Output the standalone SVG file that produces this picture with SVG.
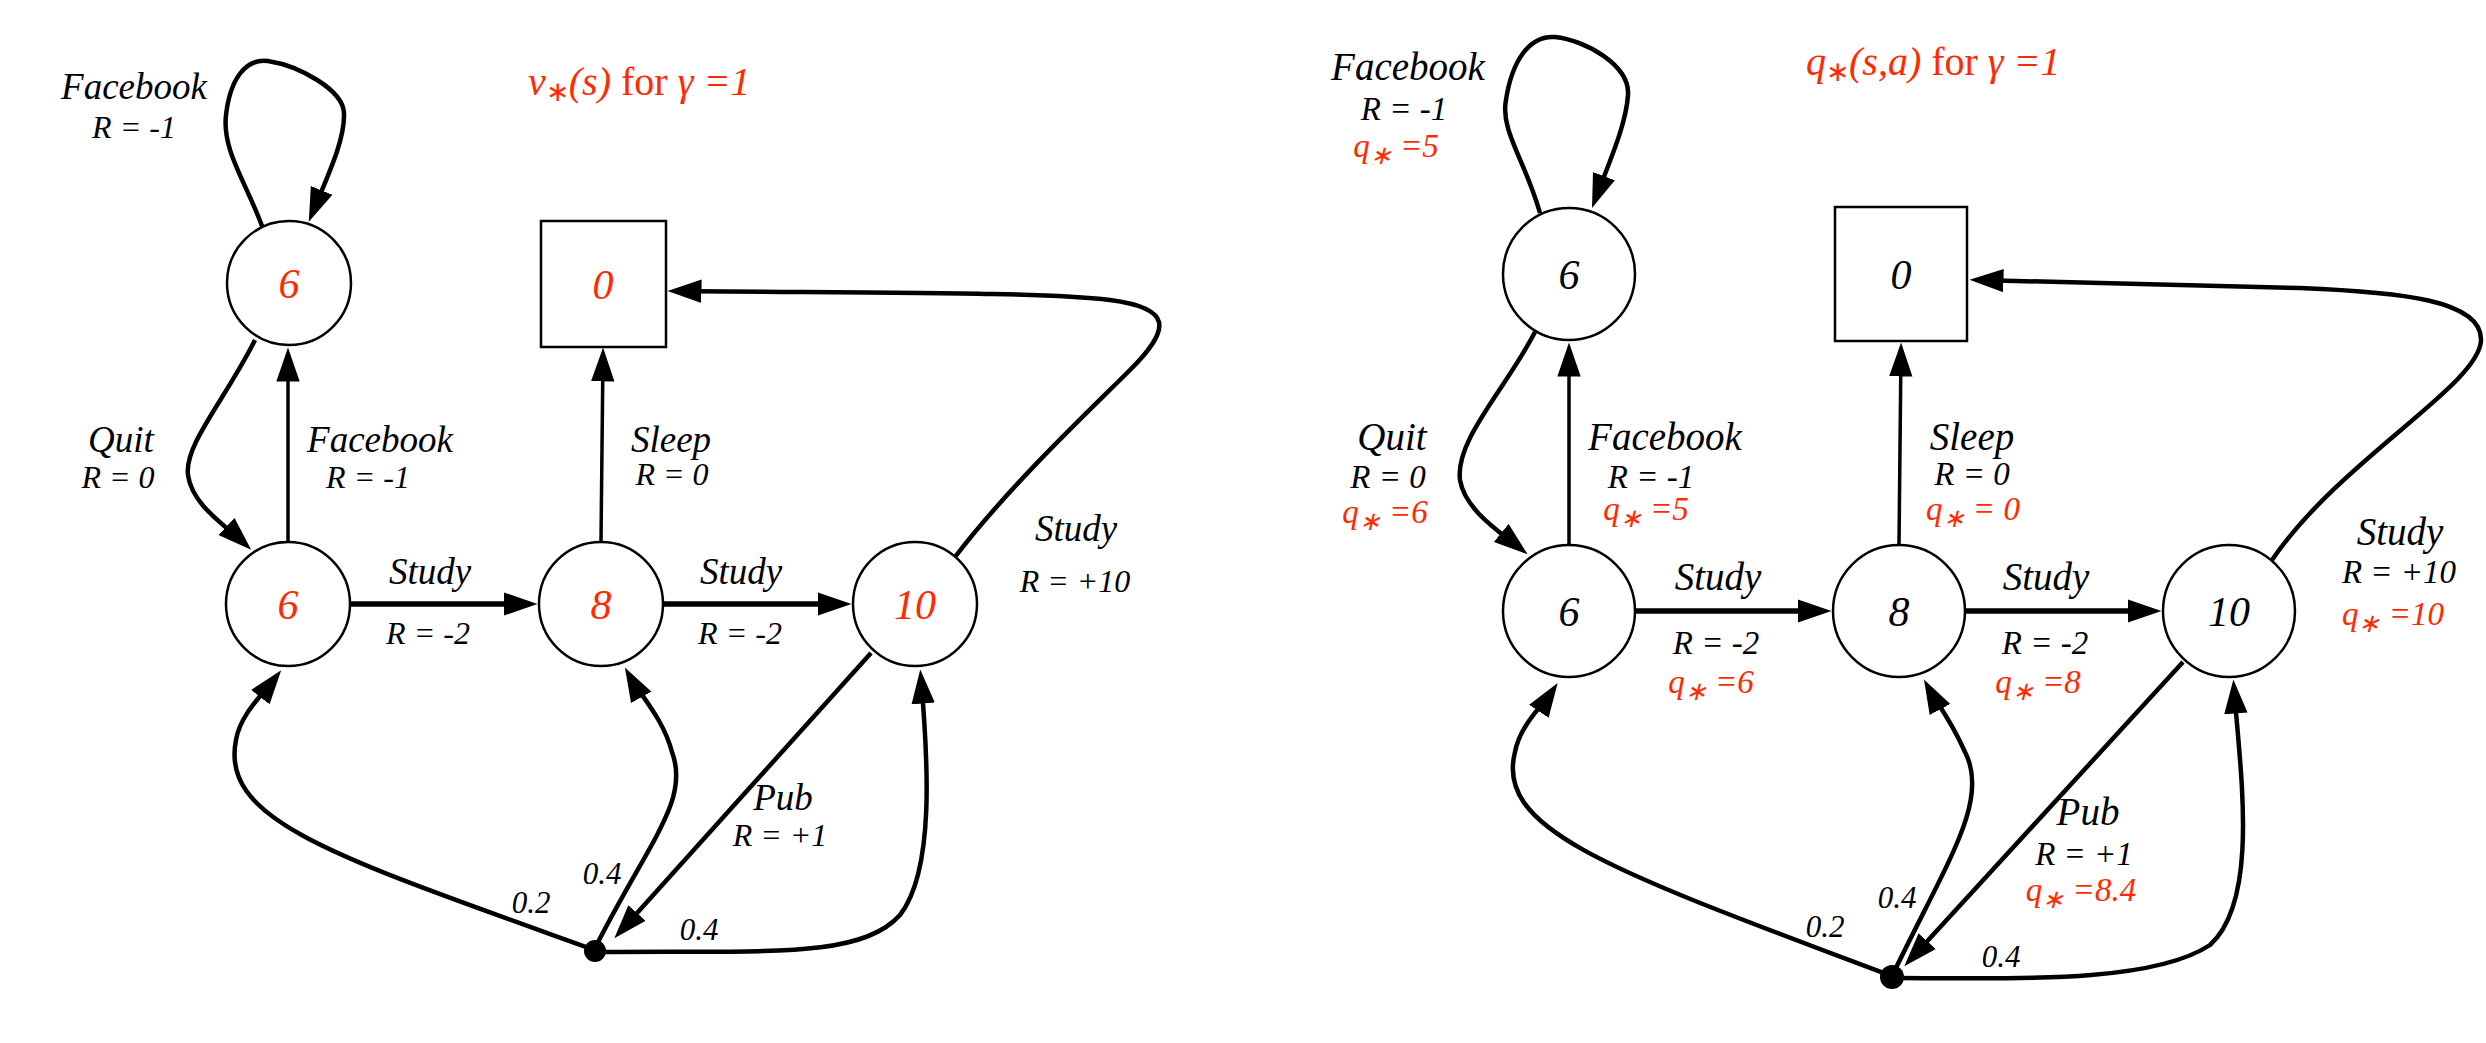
<svg xmlns="http://www.w3.org/2000/svg" width="2486" height="1043" viewBox="0 0 2486 1043">
<style>
.lbl{font-family:"Liberation Serif","Times New Roman",serif;font-style:italic;fill:#000;text-anchor:middle}
.a1{font-size:37px}
.r1{font-size:32px}
.a2{font-size:39px}
.r2{font-size:33px}
.p{font-size:31px}
.red{fill:#ff2a00}
.num{font-family:"Liberation Serif","Times New Roman",serif;font-style:italic;font-size:42px;text-anchor:middle}
.title{font-family:"Liberation Serif","Times New Roman",serif;font-size:40px;fill:#ff2a00}
.it{font-style:italic}
.node{fill:#fff;stroke:#000;stroke-width:2.5}
.e{fill:none;stroke:#000;stroke-width:4.5;marker-end:url(#ah)}
.v{fill:none;stroke:#000;stroke-width:3.5;marker-end:url(#ah)}
.h{fill:none;stroke:#000;stroke-width:5.5;marker-end:url(#ah)}
</style>
<defs>
<marker id="ah" markerUnits="userSpaceOnUse" markerWidth="34" markerHeight="24" viewBox="0 0 32 22" refX="24" refY="11" orient="auto">
<path d="M0,0 L32,11 L0,22 z" fill="#000"/>
</marker>
</defs>
<rect width="2486" height="1043" fill="#fff"/>

<!-- LEFT DIAGRAM -->
<text class="title" x="528" y="95"><tspan class="it">v</tspan><tspan dy="6" font-size="28">∗</tspan><tspan dy="-6" class="it">(s)</tspan> for <tspan class="it">γ =1</tspan></text>

<g id="connectors-left">
<path class="e" d="M262,226 C245,180 222,150 226,115 C230,80 245,58 268,61 C300,66 343,90 344,113 C345,140 328,175 312,214"/>
<path class="e" d="M255,340 C225,400 184,445 188,475 C192,505 225,525 245,544"/>
<path class="v" d="M288,541 L288,356"/>
<path class="v" d="M601,541 L603,356"/>
<path class="h" d="M350,604 L529,604"/>
<path class="h" d="M663,604 L843,604"/>
<path class="e" d="M955,557 C1010,485 1090,410 1130,370 C1172,328 1172,308 1110,300 C1040,292 900,293 676,291"/>
<path class="e" d="M871,653 L620,932"/>
<path class="e" d="M589,948 C330,855 220,820 236,740 C240,715 262,695 276,677"/>
<path class="e" d="M596,946 C650,840 690,800 672,752 C663,718 640,695 629,675"/>
<path class="e" d="M600,952 C760,950 860,960 900,915 C935,870 928,760 921,678"/>
</g>

<g id="n-l-fb"><circle class="node" cx="289" cy="283" r="62"/><text class="num red" x="289" y="298">6</text></g>
<g id="n-l-end"><rect class="node" x="541" y="221" width="125" height="126"/><text class="num red" x="603" y="299">0</text></g>
<g id="n-l-c1"><circle class="node" cx="288" cy="604" r="62"/><text class="num red" x="288" y="619">6</text></g>
<g id="n-l-c2"><circle class="node" cx="601" cy="604" r="62"/><text class="num red" x="601" y="619">8</text></g>
<g id="n-l-c3"><circle class="node" cx="915" cy="604" r="62"/><text class="num red" x="915" y="619">10</text></g>
<g id="n-l-pub"><circle cx="595" cy="951" r="11" fill="#000"/></g>

<g id="labels-left">
<text class="lbl a1" x="134" y="99">Facebook</text>
<text class="lbl r1" x="134" y="138">R = -1</text>
<text class="lbl a1" x="121" y="452">Quit</text>
<text class="lbl r1" x="118" y="488">R = 0</text>
<text class="lbl a1" x="380" y="452">Facebook</text>
<text class="lbl r1" x="368" y="488">R = -1</text>
<text class="lbl a1" x="671" y="452">Sleep</text>
<text class="lbl r1" x="672" y="485">R = 0</text>
<text class="lbl a1" x="430" y="584">Study</text>
<text class="lbl r1" x="428" y="644">R = -2</text>
<text class="lbl a1" x="741" y="584">Study</text>
<text class="lbl r1" x="740" y="644">R = -2</text>
<text class="lbl a1" x="1076" y="541">Study</text>
<text class="lbl r1" x="1075" y="592">R = +10</text>
<text class="lbl a1" x="783" y="810">Pub</text>
<text class="lbl r1" x="780" y="846">R = +1</text>
<text class="lbl p" x="602" y="884">0.4</text>
<text class="lbl p" x="531" y="913">0.2</text>
<text class="lbl p" x="699" y="940">0.4</text>
</g>

<!-- RIGHT DIAGRAM -->
<text class="title" x="1806" y="75"><tspan class="it">q</tspan><tspan dy="6" font-size="28">∗</tspan><tspan dy="-6" class="it">(s,a)</tspan> for <tspan class="it">γ =1</tspan></text>

<g id="connectors-right">
<path class="e" d="M1540,213 C1525,160 1500,130 1506,100 C1512,60 1530,35 1555,37 C1585,40 1630,65 1628,95 C1626,125 1610,160 1595,200"/>
<path class="e" d="M1535,332 C1505,390 1455,440 1460,480 C1465,510 1500,532 1521,549"/>
<path class="v" d="M1569,545 L1569,351"/>
<path class="v" d="M1899,545 L1901,351"/>
<path class="h" d="M1635,611 L1823,611"/>
<path class="h" d="M1965,611 L2153,611"/>
<path class="e" d="M2272,560 C2340,460 2480,385 2481,340 C2482,300 2400,292 2300,288 C2200,285 2100,283 1978,280"/>
<path class="e" d="M2183,662 L1910,960"/>
<path class="e" d="M1886,974 C1610,870 1495,830 1515,752 C1520,725 1543,705 1553,690"/>
<path class="e" d="M1894,972 C1948,860 1990,800 1965,752 C1950,718 1936,702 1928,687"/>
<path class="e" d="M1898,978 C2000,978 2150,985 2210,945 C2260,900 2240,770 2234,688"/>
</g>

<g id="n-r-fb"><circle class="node" cx="1569" cy="274" r="66"/><text class="num" x="1569" y="289">6</text></g>
<g id="n-r-end"><rect class="node" x="1835" y="207" width="132" height="134"/><text class="num" x="1901" y="289">0</text></g>
<g id="n-r-c1"><circle class="node" cx="1569" cy="611" r="66"/><text class="num" x="1569" y="626">6</text></g>
<g id="n-r-c2"><circle class="node" cx="1899" cy="611" r="66"/><text class="num" x="1899" y="626">8</text></g>
<g id="n-r-c3"><circle class="node" cx="2229" cy="611" r="66"/><text class="num" x="2229" y="626">10</text></g>
<g id="n-r-pub"><circle cx="1892" cy="977" r="12" fill="#000"/></g>

<g id="labels-right">
<text class="lbl a2" x="1408" y="80">Facebook</text>
<text class="lbl r2" x="1404" y="120">R = -1</text>
<text class="lbl r2 red" x="1396" y="157">q<tspan dy="7" font-size="26">∗</tspan><tspan dy="-7"> =5</tspan></text>
<text class="lbl a2" x="1392" y="450">Quit</text>
<text class="lbl r2" x="1388" y="488">R = 0</text>
<text class="lbl r2 red" x="1385" y="523">q<tspan dy="7" font-size="26">∗</tspan><tspan dy="-7"> =6</tspan></text>
<text class="lbl a2" x="1665" y="450">Facebook</text>
<text class="lbl r2" x="1651" y="488">R = -1</text>
<text class="lbl r2 red" x="1646" y="520">q<tspan dy="7" font-size="26">∗</tspan><tspan dy="-7"> =5</tspan></text>
<text class="lbl a2" x="1972" y="450">Sleep</text>
<text class="lbl r2" x="1972" y="485">R = 0</text>
<text class="lbl r2 red" x="1973" y="520">q<tspan dy="7" font-size="26">∗</tspan><tspan dy="-7"> = 0</tspan></text>
<text class="lbl a2" x="1718" y="590">Study</text>
<text class="lbl r2" x="1716" y="654">R = -2</text>
<text class="lbl r2 red" x="1711" y="693">q<tspan dy="7" font-size="26">∗</tspan><tspan dy="-7"> =6</tspan></text>
<text class="lbl a2" x="2046" y="590">Study</text>
<text class="lbl r2" x="2045" y="654">R = -2</text>
<text class="lbl r2 red" x="2038" y="693">q<tspan dy="7" font-size="26">∗</tspan><tspan dy="-7"> =8</tspan></text>
<text class="lbl a2" x="2400" y="545">Study</text>
<text class="lbl r2" x="2399" y="583">R = +10</text>
<text class="lbl r2 red" x="2393" y="625">q<tspan dy="7" font-size="26">∗</tspan><tspan dy="-7"> =10</tspan></text>
<text class="lbl a2" x="2088" y="825">Pub</text>
<text class="lbl r2" x="2084" y="865">R = +1</text>
<text class="lbl r2 red" x="2081" y="901">q<tspan dy="7" font-size="26">∗</tspan><tspan dy="-7"> =8.4</tspan></text>
<text class="lbl p" x="1897" y="908">0.4</text>
<text class="lbl p" x="1825" y="937">0.2</text>
<text class="lbl p" x="2001" y="967">0.4</text>
</g>
</svg>
